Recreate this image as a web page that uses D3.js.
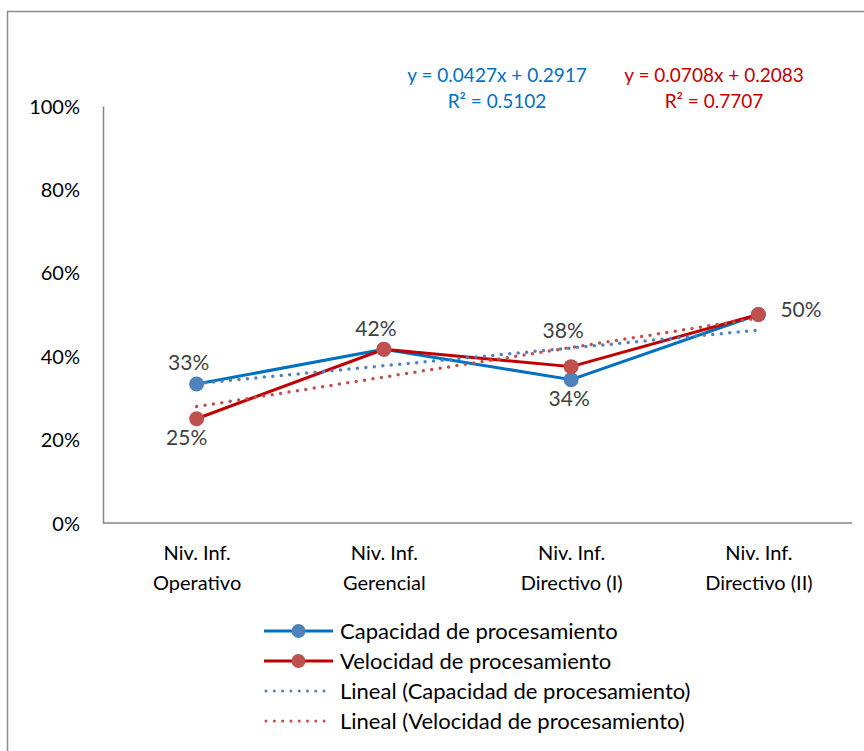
<!DOCTYPE html>
<html>
<head>
<meta charset="utf-8">
<script src="https://cdn.jsdelivr.net/npm/d3@7"></script>
<style>
  html, body { margin: 0; padding: 0; background: #fff; }
  svg { display: block; }
  text { font-family: Lato, "Open Sans", sans-serif; }
</style>
</head>
<body>
<svg id="chart" width="864" height="751"></svg>
<script>
// ---- data ----
const categories = [["Niv. Inf.", "Operativo"], ["Niv. Inf.", "Gerencial"], ["Niv. Inf.", "Directivo (I)"], ["Niv. Inf.", "Directivo (II)"]];
const capacidad = [0.3333, 0.4167, 0.3438, 0.5];
const velocidad = [0.25, 0.4167, 0.375, 0.5];
const yTicks = [0, 0.2, 0.4, 0.6, 0.8, 1.0];
const seriesNames = ["Capacidad de procesamiento", "Velocidad de procesamiento"];
const trendNames = ["Lineal (Capacidad de procesamiento)", "Lineal (Velocidad de procesamiento)"];
const trendCap = [0.0427, 0.2917]; // slope, intercept
const trendVel = [0.0708, 0.2083];
const eqCap = ["y = 0.0427x + 0.2917", "R² = 0.5102"];
const eqVel = ["y = 0.0708x + 0.2083", "R² = 0.7707"];
// label placement per point: 'above' | 'below' | 'right' | null
const capLabelPos = ["above", null, "below", null];
const velLabelPos = ["below", "above", "above", "right"];

// ---- styles ----
const C = {
  capLine: "#0070C0", capMarker: "#4F81BD",
  velLine: "#C00000", velMarker: "#C0504D",
  axis: "#868686", label: "#404040", text: "#000"
};

const svg = d3.select("#chart");

// outer border
svg.append("rect").attr("x", 7.5).attr("y", 11.5).attr("width", 900).attr("height", 800)
  .attr("fill", "none").attr("stroke", "#8c8c8c").attr("stroke-width", 1.5);

const pLeft = 103, pRight = 852, pTop = 106, pBottom = 523;
const idx = categories.map((d, i) => i);
const x = d3.scalePoint().domain(idx).range([pLeft, pRight]).padding(0.5);
const y = d3.scaleLinear().domain([0, 1]).range([pBottom, pTop]);
const xLin = d3.scaleLinear().domain([1, categories.length]).range([x(0), x(categories.length - 1)]);

// y axis
const yAxis = svg.append("g").attr("transform", `translate(${pLeft},0)`)
  .call(d3.axisLeft(y).tickValues(yTicks).tickSize(0).tickPadding(23).tickFormat(d3.format(".0%")));
yAxis.select(".domain").attr("stroke", C.axis).attr("stroke-width", 1.5);
yAxis.selectAll("text").attr("font-size", 20).attr("fill", C.text).attr("font-family", "Lato").attr("dy", "0.35em");

// x axis
const xAxis = svg.append("g").attr("transform", `translate(0,${pBottom})`)
  .call(d3.axisBottom(x).tickSize(0).tickFormat(""));
xAxis.select(".domain").attr("stroke", C.axis).attr("stroke-width", 1.5).attr("d", `M${pLeft},0H${pRight}`);
xAxis.selectAll(".tick").each(function(d) {
  const t = d3.select(this).append("text").attr("text-anchor", "middle")
    .attr("font-size", 20).attr("fill", C.text).attr("font-family", "Lato");
  categories[d].forEach((ln, j) => {
    t.append("tspan").attr("x", 0).attr("y", 37 + j * 30).text(ln);
  });
});

// series lines
const line = d3.line().x((d, i) => x(i)).y(d => y(d));
svg.append("path").datum(capacidad).attr("d", line).attr("fill", "none")
  .attr("stroke", C.capLine).attr("stroke-width", 3).attr("stroke-linejoin", "round");
svg.append("path").datum(velocidad).attr("d", line).attr("fill", "none")
  .attr("stroke", C.velLine).attr("stroke-width", 3).attr("stroke-linejoin", "round");

// trend lines
function trendPath(tr) {
  const x0 = 1, x1 = categories.length;
  return `M${xLin(x0)},${y(tr[0] * x0 + tr[1])}L${xLin(x1)},${y(tr[0] * x1 + tr[1])}`;
}
svg.append("path").attr("d", trendPath(trendCap)).attr("fill", "none")
  .attr("stroke", C.capMarker).attr("stroke-width", 3.5).attr("stroke-linecap", "round").attr("stroke-dasharray", "0 8.5");
svg.append("path").attr("d", trendPath(trendVel)).attr("fill", "none")
  .attr("stroke", C.velMarker).attr("stroke-width", 3.5).attr("stroke-linecap", "round").attr("stroke-dasharray", "0 8.5");

// markers
svg.append("g").selectAll("circle").data(capacidad).join("circle")
  .attr("cx", (d, i) => x(i)).attr("cy", d => y(d)).attr("r", 7.5).attr("fill", C.capMarker);
svg.append("g").selectAll("circle").data(velocidad).join("circle")
  .attr("cx", (d, i) => x(i)).attr("cy", d => y(d)).attr("r", 7.5).attr("fill", C.velMarker);

// data labels
function addLabels(vals, pos, offs) {
  vals.forEach((v, i) => {
    const p = pos[i];
    if (!p) return;
    let lx = x(i), ly = y(v), anchor = "middle";
    if (p === "above") { lx -= 8; ly -= 21; }
    if (p === "below") { lx -= 10; ly += 19; }
    if (p === "right") { lx += 22; ly -= 5; anchor = "start"; }
    if (offs && offs[i]) { lx += offs[i][0]; ly += offs[i][1]; }
    svg.append("text").attr("x", lx).attr("y", ly).attr("dy", "0.35em").attr("text-anchor", anchor)
      .attr("font-size", 21).attr("fill", C.label).text(d3.format(".0%")(v));
  });
}
addLabels(capacidad, capLabelPos, [null, null, [8, 0], null]);
addLabels(velocidad, velLabelPos, [null, null, [0, -15], null]);

// equations
function addEq(lines, cx, color) {
  lines.forEach((t, j) => {
    svg.append("text").attr("x", cx).attr("y", 75 + j * 26).attr("dy", "0.35em").attr("text-anchor", "middle")
      .attr("font-size", 19).attr("fill", color).text(t);
  });
}
addEq(eqCap, 497, C.capLine);
addEq(eqVel, 714, C.velLine);

// legend
const legend = svg.append("g");
const legItems = [
  { name: seriesNames[0], color: C.capLine, mc: C.capMarker, dotted: false },
  { name: seriesNames[1], color: C.velLine, mc: C.velMarker, dotted: false },
  { name: trendNames[0], color: C.capMarker, dotted: true },
  { name: trendNames[1], color: C.velMarker, dotted: true }
];
legItems.forEach((it, k) => {
  const ly = 631 + k * 30;
  if (it.dotted) {
    legend.append("line").attr("x1", 266).attr("x2", 330).attr("y1", ly).attr("y2", ly)
      .attr("stroke", it.color).attr("stroke-width", 3).attr("stroke-linecap", "round").attr("stroke-dasharray", "0 8.3");
  } else {
    legend.append("line").attr("x1", 264).attr("x2", 333).attr("y1", ly).attr("y2", ly)
      .attr("stroke", it.color).attr("stroke-width", 3);
    legend.append("circle").attr("cx", 298.5).attr("cy", ly).attr("r", 7).attr("fill", it.mc);
  }
  legend.append("text").attr("x", 340).attr("y", ly).attr("dy", "0.35em")
    .attr("font-size", 22).attr("fill", C.text).text(it.name);
});
</script>
</body>
</html>
